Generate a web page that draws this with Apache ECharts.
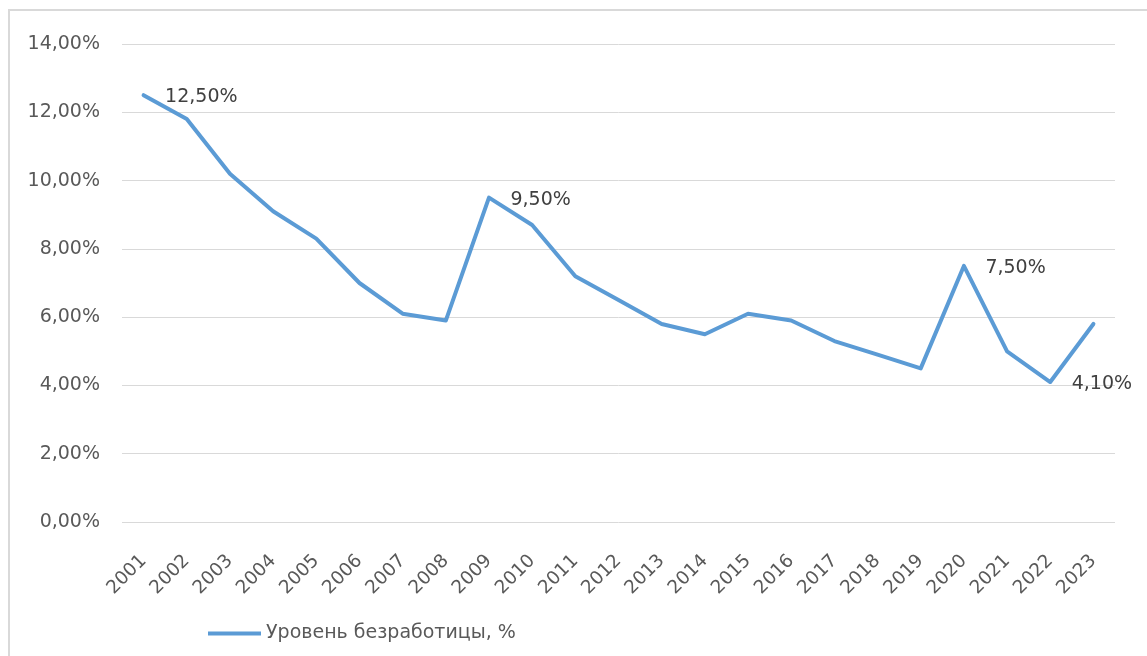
<!DOCTYPE html>
<html>
<head>
<meta charset="utf-8">
<script src="https://cdn.jsdelivr.net/npm/echarts@6/dist/echarts.min.js"></script>
<style>
html,body{margin:0;padding:0;background:#fff;}
#wrap{position:relative;width:1147px;height:656px;overflow:hidden;}
#chart{position:absolute;left:0;top:0;width:1147px;height:656px;}
#frame{position:absolute;left:8px;top:9px;width:1160px;height:680px;border-left:2px solid #d9d9d9;border-top:2px solid #d9d9d9;pointer-events:none;}
</style>
</head>
<body>
<div id="wrap"><div id="chart"></div><div id="frame"></div></div>
<script>
const years = ['2001','2002','2003','2004','2005','2006','2007','2008','2009','2010','2011','2012','2013','2014','2015','2016','2017','2018','2019','2020','2021','2022','2023'];
const unemployment = [12.5,11.8,10.2,9.1,8.3,7.0,6.1,5.9,9.5,8.7,7.2,6.5,5.8,5.5,6.1,5.9,5.3,4.9,4.5,7.5,5.0,4.1,5.8];
const labeledYears = ['2001','2009','2020','2022'];
const seriesName = 'Уровень безработицы, %';
const yMin = 0, yMax = 14, yStep = 2;

const fmt = v => v.toFixed(2).replace('.', ',') + '%';
const FONT = 'DejaVu Sans';

const chart = echarts.init(document.getElementById('chart'), null, {renderer:'canvas'});
chart.setOption({
  animation:false,
  backgroundColor:'#ffffff',
  grid:{left:122, right:32, top:44, bottom:134, containLabel:false},
  legend:{
    left:203, top:619,
    itemWidth:53, itemHeight:4, itemGap:4,
    icon:'rect',
    textStyle:{color:'#595959', fontSize:19, fontFamily:FONT},
    data:[{name:seriesName, itemStyle:{color:'#5b9bd5'}}]
  },
  xAxis:{
    type:'category', data:years, boundaryGap:true,
    axisLine:{show:false}, axisTick:{show:false},
    axisLabel:{rotate:45, interval:0, color:'#595959', fontSize:18.5, fontFamily:FONT, margin:36}
  },
  yAxis:{
    type:'value', min:yMin, max:yMax, interval:yStep,
    axisLine:{show:false}, axisTick:{show:false},
    splitLine:{lineStyle:{color:'#d9d9d9', width:1}},
    axisLabel:{color:'#595959', fontSize:19, fontFamily:FONT, margin:22, formatter:v=>fmt(v)}
  },
  series:[{
    name:seriesName, type:'line', data:unemployment.map((v,i)=>({
      value:v,
      label:{show:labeledYears.includes(years[i])}
    })),
    showSymbol:true, symbol:'circle', symbolSize:1,
    lineStyle:{color:'#5b9bd5', width:4, join:'round', cap:'round'},
    itemStyle:{color:'#5b9bd5'},
    label:{show:false, position:'right', distance:21, offset:[0,2], color:'#404040', fontSize:19, fontFamily:FONT, formatter:p=>fmt(p.value)}
  }]
});
</script>
</body>
</html>
